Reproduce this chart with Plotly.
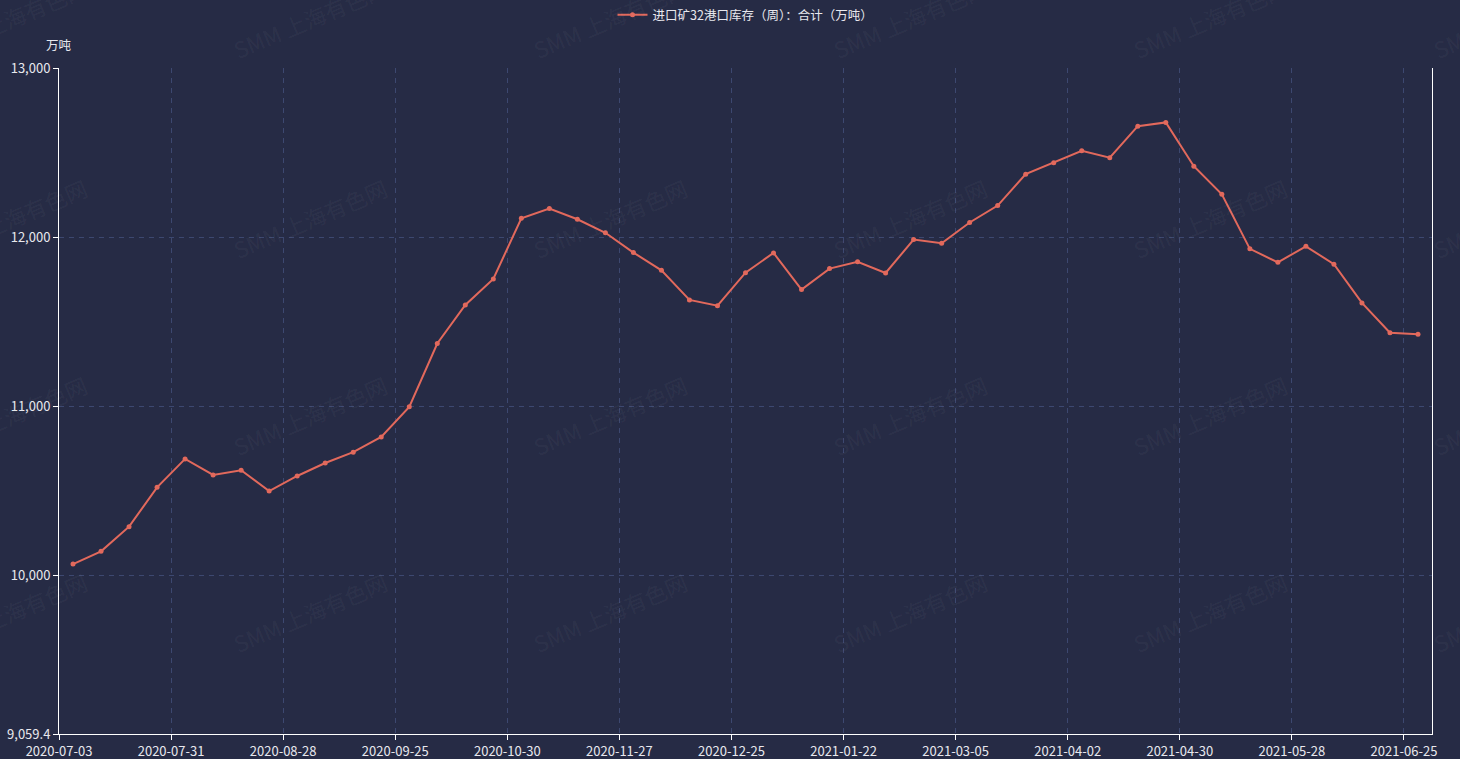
import numpy as np
import plotly.graph_objects as go

dates = [
    "2020-07-03", "2020-07-10", "2020-07-17", "2020-07-24",
    "2020-07-31", "2020-08-07", "2020-08-14", "2020-08-21",
    "2020-08-28", "2020-09-04", "2020-09-11", "2020-09-18",
    "2020-09-25", "2020-10-09", "2020-10-16", "2020-10-23",
    "2020-10-30", "2020-11-06", "2020-11-13", "2020-11-20",
    "2020-11-27", "2020-12-04", "2020-12-11", "2020-12-18",
    "2020-12-25", "2021-01-01", "2021-01-08", "2021-01-15",
    "2021-01-22", "2021-01-29", "2021-02-05", "2021-02-26",
    "2021-03-05", "2021-03-12", "2021-03-19", "2021-03-26",
    "2021-04-02", "2021-04-09", "2021-04-16", "2021-04-23",
    "2021-04-30", "2021-05-07", "2021-05-14", "2021-05-21",
    "2021-05-28", "2021-06-04", "2021-06-11", "2021-06-18",
    "2021-06-25",
]
values = [
    10065, 10140, 10286, 10519, 10687, 10592, 10620, 10497,
    10586, 10663, 10727, 10817, 10995, 11370, 11598, 11752,
    12111, 12169, 12105, 12025, 11908, 11803, 11628, 11594,
    11789, 11906, 11689, 11813, 11853, 11787, 11985, 11963,
    12086, 12186, 12372, 12439, 12510, 12469, 12656, 12678,
    12419, 12253, 11930, 11850, 11945, 11839, 11610, 11434,
    11424,
]
series_name = "进口矿32港口库存（周）：合计（万吨）"
y_unit = "万吨"
y_tick_vals = [9059.4, 10000, 11000, 12000, 13000]
y_tick_text = ["9,059.4", "10,000", "11,000", "12,000", "13,000"]
label_step = 4
watermark = "SMM 上海有色网"

BG = "#262b45"
LINE = "#e2695c"
GRID = "#3d4870"
TXT = "#e8e8ee"
FONT = "Noto Sans CJK SC, Microsoft YaHei, sans-serif"

n = len(dates)
x = np.arange(n) + 0.5
tick_idx = list(range(0, n, label_step))

fig = go.Figure()
fig.add_trace(go.Scatter(
    x=x, y=values, mode="lines+markers", name=series_name,
    line=dict(color=LINE, width=2),
    marker=dict(size=5, color=LINE),
    showlegend=True,
))

W, H = 1460, 759
L, R, T, B = 59, 28, 68, 25
pw, ph = W - L - R, H - T - B

annotations = []
for cy in [18, 218, 415, 612]:
    for cx in [10, 310, 610, 910, 1210, 1510]:
        annotations.append(dict(
            text=watermark, x=(cx - L) / pw, y=1 - (cy - T) / ph,
            xref="paper", yref="paper", showarrow=False,
            textangle=-23, xanchor="center", yanchor="middle",
            font=dict(size=22, color="rgba(255,255,255,0.055)", family=FONT),
        ))
annotations.append(dict(
    text=y_unit, x=0, y=1, xref="paper", yref="paper",
    xanchor="center", yanchor="bottom", yshift=12, showarrow=False,
    font=dict(size=12.5, color=TXT, family=FONT),
))

fig.update_layout(
    width=W, height=H,
    paper_bgcolor=BG, plot_bgcolor=BG,
    margin=dict(l=L, r=R, t=T, b=B, pad=0, autoexpand=False),
    font=dict(family=FONT, size=12, color=TXT),
    legend=dict(orientation="h", x=0.5, xanchor="center", y=1.0,
                yref="container", yanchor="top",
                font=dict(size=12.5, color=TXT, family=FONT),
                bgcolor="rgba(0,0,0,0)"),
    annotations=annotations,
    xaxis=dict(
        range=[0, n], tickmode="array", automargin=False,
        tickvals=tick_idx, ticktext=[dates[i] for i in tick_idx],
        showgrid=True, gridcolor=GRID, griddash="5px,5px", gridwidth=1,
        showline=True, linecolor="#ffffff", linewidth=1,
        ticks="outside", ticklen=5, tickcolor="#ffffff",
        zeroline=False, tickfont=dict(size=13, color=TXT),
    ),
    yaxis=dict(
        range=[y_tick_vals[0], y_tick_vals[-1]], tickmode="array", automargin=False,
        tickvals=y_tick_vals, ticktext=y_tick_text,
        showgrid=True, gridcolor=GRID, griddash="5px,5px", gridwidth=1,
        showline=True, linecolor="#ffffff", linewidth=1, mirror=True,
        ticks="outside", ticklen=5, tickcolor="#ffffff",
        zeroline=False, tickfont=dict(size=13, color=TXT),
    ),
)

fig.write_html(
    "out.html",
    config={"displayModeBar": False},
    post_script="document.body.style.margin='0';document.body.style.overflow='hidden';document.body.style.background='" + BG + "';",
)
